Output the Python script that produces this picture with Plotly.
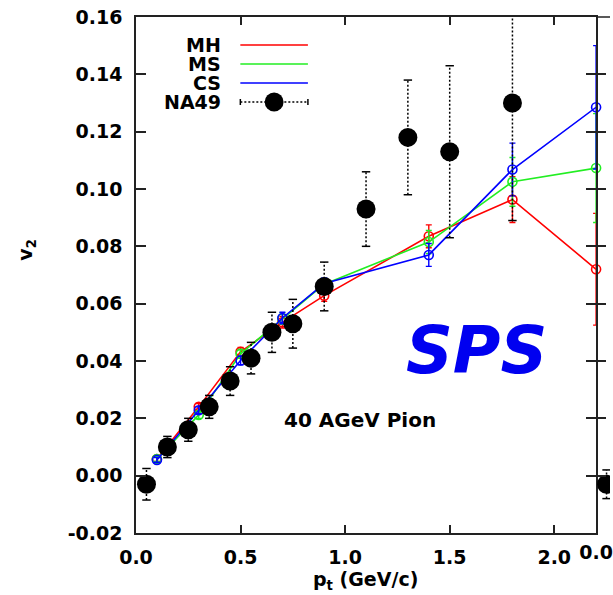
import plotly.graph_objects as go

# ---- data -----------------------------------------------------------------
pt_model = [0.1, 0.3, 0.5, 0.7, 0.9, 1.4, 1.8, 2.2]

v2_mh = [0.0058, 0.0240, 0.0432, 0.0535, 0.0628, 0.0835, 0.0963, 0.0720]
err_mh = [0.0008, 0.0012, 0.0015, 0.0020, 0.0020, 0.0040, 0.0080, 0.0195]

v2_ms = [0.0058, 0.0212, 0.0425, 0.0548, 0.0668, 0.0815, 0.1025, 0.1073]
err_ms = [0.0008, 0.0012, 0.0015, 0.0020, 0.0020, 0.0040, 0.0085, 0.0190]

v2_cs = [0.0055, 0.0228, 0.0402, 0.0550, 0.0670, 0.0770, 0.1068, 0.1285]
err_cs = [0.0008, 0.0012, 0.0015, 0.0020, 0.0020, 0.0040, 0.0092, 0.0215]

pt_na49 = [0.05, 0.15, 0.25, 0.35, 0.45, 0.55, 0.65, 0.75, 0.9, 1.1, 1.3, 1.5, 1.8]
v2_na49 = [-0.003, 0.010, 0.016, 0.024, 0.033, 0.041, 0.050, 0.053, 0.066,
           0.093, 0.118, 0.113, 0.130]
err_na49 = [0.0055, 0.0037, 0.004, 0.004, 0.005, 0.0055, 0.007, 0.0085, 0.0085,
            0.013, 0.020, 0.030, 0.041]

# first point of the neighbouring panel
pt_na49_next = [0.05]
v2_na49_next = [-0.003]
err_na49_next = [0.005]

x_ticks = [0.0, 0.5, 1.0, 1.5, 2.0]
y_ticks = [-0.02, 0.0, 0.02, 0.04, 0.06, 0.08, 0.10, 0.12, 0.14, 0.16]
y_tick_text = ["-0.02", "0.00", "0.02", "0.04", "0.06", "0.08", "0.10", "0.12",
               "0.14", "0.16"]
y_range = [-0.02, 0.16]

# ---- geometry ---------------------------------------------------------------
W, H = 613, 595
L, R, T, B = 136, 0, 17, 62
PW = W - L - R
PH = H - T - B
PANEL_RIGHT = 599          # pixel where the next panel starts
X1_MAX = 2.2
px_per_unit = (PANEL_RIGHT - L) / X1_MAX


def px(xp):
    return (xp - L) / PW


def py(yp):
    return (H - B - yp) / PH


AX = "#222222"
TICKFONT = dict(family="DejaVu Sans", size=19, color="black", weight="bold")

fig = go.Figure()

series = [("MH", v2_mh, err_mh, "#ff0000"),
          ("MS", v2_ms, err_ms, "#22ee22"),
          ("CS", v2_cs, err_cs, "#0000ff")]
for name, vals, errs, col in series:
    fig.add_trace(go.Scatter(
        x=pt_model, y=vals, name=name, mode="lines+markers",
        line=dict(color=col, width=1.6),
        marker=dict(symbol="circle-open", size=9, color=col, line=dict(width=1.6)),
        error_y=dict(type="data", array=errs, color=col, thickness=1.4, width=3),
        cliponaxis=False, showlegend=False,
    ))


def add_dotted_errors(xs, ys, es, xaxis="x", yaxis="y"):
    seg_x, seg_y, cap_x, cap_y = [], [], [], []
    for x, y, e in zip(xs, ys, es):
        seg_x += [x, x, None]
        seg_y += [y - e, y + e, None]
        cap_x += [x, x]
        cap_y += [y - e, y + e]
    fig.add_trace(go.Scatter(
        x=seg_x, y=seg_y, mode="lines", xaxis=xaxis, yaxis=yaxis,
        line=dict(color="black", width=1.5, dash="2px,2px"),
        showlegend=False, hoverinfo="skip"))
    fig.add_trace(go.Scatter(
        x=cap_x, y=cap_y, mode="markers", xaxis=xaxis, yaxis=yaxis,
        marker=dict(symbol="line-ew", size=6, line=dict(color="black", width=1.5)),
        showlegend=False, hoverinfo="skip"))
    fig.add_trace(go.Scatter(
        x=xs, y=ys, mode="markers", xaxis=xaxis, yaxis=yaxis,
        marker=dict(symbol="circle", size=19, color="black"),
        showlegend=False))


add_dotted_errors(pt_na49, v2_na49, err_na49)
add_dotted_errors(pt_na49_next, v2_na49_next, err_na49_next, "x2", "y2")

dom_split = (PANEL_RIGHT - L) / PW

fig.update_layout(
    width=W, height=H,
    margin=dict(l=L, r=R, t=T, b=B, pad=0),
    paper_bgcolor="white", plot_bgcolor="white",
    showlegend=False,
    xaxis=dict(domain=[0, dom_split], range=[0, X1_MAX], tickvals=x_ticks,
               tickformat=".1f", ticks="inside", ticklen=8, tickwidth=1.5,
               tickcolor=AX, showline=True, linecolor=AX, linewidth=1.5,
               mirror="ticks", showgrid=False, zeroline=False,
               tickfont=TICKFONT, ticklabelstandoff=6),
    yaxis=dict(range=y_range, tickvals=y_ticks, ticktext=y_tick_text,
               ticks="inside", ticklen=10, tickwidth=1.5, tickcolor=AX,
               showline=True, linecolor=AX, linewidth=1.5, mirror="ticks",
               showgrid=False, zeroline=False, tickfont=TICKFONT,
               ticklabelstandoff=8),
    xaxis2=dict(domain=[dom_split, 1], range=[0, (W - PANEL_RIGHT) / px_per_unit],
                anchor="y2", tickvals=[0.0], ticktext=["0.0"], ticks="",
                showline=False, showgrid=False, zeroline=False,
                tickfont=TICKFONT, ticklabeloverflow="allow", ticklabelstandoff=6),
    yaxis2=dict(range=y_range, anchor="x2", tickvals=y_ticks,
                showticklabels=False, ticks="inside", ticklen=10, tickwidth=1.5,
                tickcolor=AX, showline=False,
                showgrid=False, zeroline=False),
)

shapes = [dict(type="line", xref="x2 domain", yref="y2 domain", x0=0, x1=1, y0=1, y1=1,
               line=dict(color=AX, width=1.5))]
annotations = []

# legend block: labels on the left, line samples on the right
legend_rows = [("MH", "#ff0000", 45), ("MS", "#22ee22", 64), ("CS", "#0000ff", 83)]
for label, col, yp in legend_rows:
    annotations.append(dict(text=label, x=px(224), y=py(yp), xref="paper", yref="paper",
                            xanchor="right", yanchor="middle", showarrow=False,
                            font=TICKFONT))
    shapes.append(dict(type="line", xref="paper", yref="paper", x0=px(241), x1=px(309),
                       y0=py(yp), y1=py(yp), line=dict(color=col, width=1.6)))
annotations.append(dict(text="NA49", x=px(224), y=py(102), xref="paper", yref="paper",
                        xanchor="right", yanchor="middle", showarrow=False, font=TICKFONT))
shapes.append(dict(type="line", xref="paper", yref="paper", x0=px(241), x1=px(309),
                   y0=py(102), y1=py(102),
                   line=dict(color="black", width=1.5, dash="2px,2px")))
for xe in (241, 309):
    shapes.append(dict(type="line", xref="paper", yref="paper", x0=px(xe), x1=px(xe),
                       y0=py(99), y1=py(105), line=dict(color="black", width=1.5)))
shapes.append(dict(type="circle", xref="paper", yref="paper", x0=px(265.5), x1=px(284.5),
                   y0=py(92.5), y1=py(111.5), fillcolor="black", line=dict(width=0)))

annotations += [
    dict(text="SPS", x=px(479), y=py(350), xref="paper", yref="paper",
         xanchor="center", yanchor="middle", showarrow=False,
         font=dict(family="DejaVu Sans", size=65, color="#0000f0",
                   weight="bold", style="italic")),
    dict(text="40 AGeV Pion", x=px(361), y=py(420), xref="paper", yref="paper",
         xanchor="center", yanchor="middle", showarrow=False,
         font=dict(family="DejaVu Sans", size=20, color="black", weight="bold")),
    dict(text="p<sub>t</sub> (GeV/c)", x=px(367), y=py(580), xref="paper", yref="paper",
         xanchor="center", yanchor="middle", showarrow=False, font=TICKFONT),
    dict(text="v<sub>2</sub>", x=px(25), y=py(250), xref="paper", yref="paper",
         xanchor="center", yanchor="middle", showarrow=False, textangle=-90,
         font=TICKFONT),
]

fig.update_layout(shapes=shapes, annotations=annotations)
fig.write_html("out.html")
